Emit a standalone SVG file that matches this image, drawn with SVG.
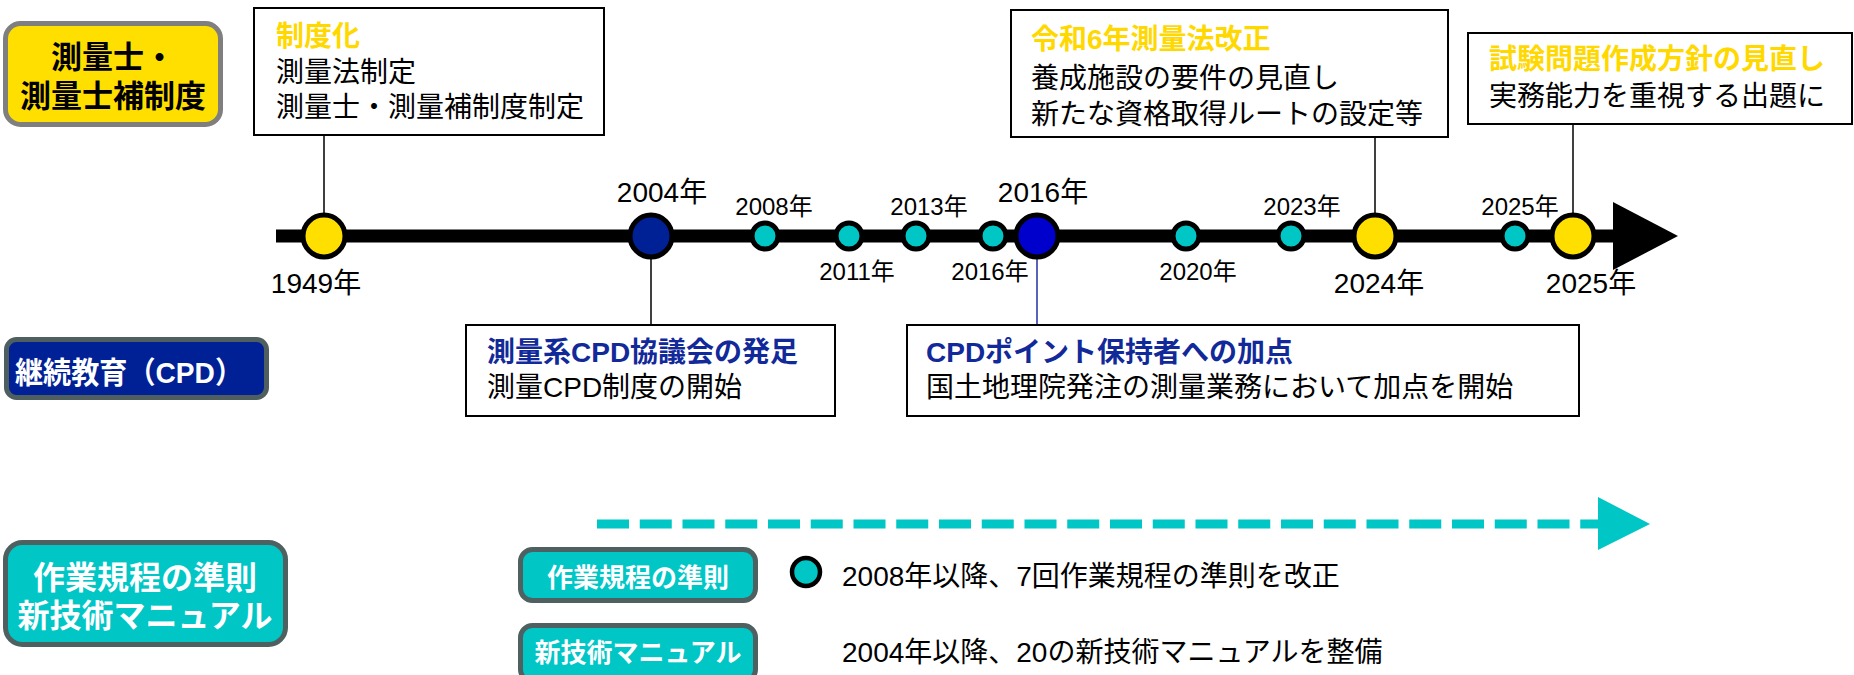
<svg xmlns="http://www.w3.org/2000/svg" width="1854" height="675" viewBox="0 0 1854 675">
<style>
text{font-family:'Liberation Sans','Noto Sans CJK JP',sans-serif;}
.bx{fill:#fff;stroke:#000;stroke-width:2}
.n{font-size:28px;fill:#000}
.hy{font-size:28px;font-weight:bold;fill:#FFD800}
.hb{font-size:28px;font-weight:bold;fill:#12299A}
.ys{font-size:24px;fill:#000;text-anchor:middle}
.yl{font-size:28px;fill:#000;text-anchor:middle}
.cs{stroke:#000;stroke-width:5}
.cy{fill:#00C6C6}
.ln{stroke:#000;stroke-width:1.5;fill:none}
.wt{fill:#fff;font-weight:bold;text-anchor:middle}
</style>
<rect width="1854" height="675" fill="#fff"/>

<g id="cat-survey">
<rect x="5.5" y="23.5" width="215" height="101" rx="15" fill="#FFDF00" stroke="#7F7F7F" stroke-width="5"/>
<text x="113" y="68" font-size="31" font-weight="bold" text-anchor="middle">測量士・</text>
<text x="113" y="107" font-size="31" font-weight="bold" text-anchor="middle">測量士補制度</text>
</g>
<g id="cat-cpd">
<rect x="6.5" y="339.5" width="260" height="58" rx="10" fill="#002096" stroke="#4F5F5F" stroke-width="5"/>
<text x="15" y="383" font-size="30" fill="#fff" font-weight="bold" textLength="228" lengthAdjust="spacingAndGlyphs">継続教育（CPD）</text>
</g>
<g id="cat-rules">
<rect x="5.5" y="542.5" width="280" height="102" rx="17" fill="#00C6C6" stroke="#4F6060" stroke-width="5"/>
<text x="145" y="589" font-size="32" class="wt">作業規程の準則</text>
<text x="145" y="627" font-size="32" class="wt">新技術マニュアル</text>
</g>

<g id="connectors">
<rect x="276" y="229.5" width="1338" height="13" fill="#000"/>
<polygon points="1613,202 1678,236 1613,270" fill="#000"/>
<line class="ln" x1="324" y1="135" x2="324" y2="214"/>
<line class="ln" x1="651" y1="258" x2="651" y2="325"/>
<line x1="1037" y1="258" x2="1037" y2="325" stroke="#2030A0" stroke-width="1.5"/>
<line class="ln" x1="1375" y1="137" x2="1375" y2="214"/>
<line class="ln" x1="1573" y1="124" x2="1573" y2="214"/>
<line x1="597" y1="524" x2="1598" y2="524" stroke="#00C6C6" stroke-width="9" stroke-dasharray="32 10.75"/>
<polygon points="1598,497 1650,524 1598,550" fill="#00C6C6"/>
</g>

<g id="box-1949">
<rect class="bx" x="254" y="8" width="350" height="127"/>
<text class="hy" x="276" y="46">制度化</text>
<text class="n" x="276" y="82">測量法制定</text>
<text class="n" x="276" y="117">測量士・測量補制度制定</text>
</g>
<g id="box-2024">
<rect class="bx" x="1011" y="10" width="437" height="127"/>
<text class="hy" x="1031" y="49">令和6年測量法改正</text>
<text class="n" x="1031" y="88">養成施設の要件の見直し</text>
<text class="n" x="1031" y="124">新たな資格取得ルートの設定等</text>
</g>
<g id="box-2025">
<rect class="bx" x="1468" y="33" width="384" height="91"/>
<text class="hy" x="1489" y="69">試験問題作成方針の見直し</text>
<text class="n" x="1489" y="106">実務能力を重視する出題に</text>
</g>
<g id="box-2004">
<rect class="bx" x="466" y="325" width="369" height="91"/>
<text class="hb" x="487" y="362">測量系CPD協議会の発足</text>
<text class="n" x="487" y="397">測量CPD制度の開始</text>
</g>
<g id="box-2016">
<rect class="bx" x="907" y="325" width="672" height="91"/>
<text class="hb" x="926" y="362">CPDポイント保持者への加点</text>
<text class="n" x="926" y="397">国土地理院発注の測量業務において加点を開始</text>
</g>

<g id="y1949"><circle class="cs" cx="324" cy="236" r="21" fill="#FFDF00"/><text class="yl" x="316" y="293">1949年</text></g>
<g id="y2004"><circle class="cs" cx="651" cy="236" r="21" fill="#002096"/><text class="yl" x="662" y="202">2004年</text></g>
<g id="y2008"><circle class="cs cy" cx="765" cy="236" r="13"/><text class="ys" x="774" y="215">2008年</text></g>
<g id="y2011"><circle class="cs cy" cx="849" cy="236" r="13"/><text class="ys" x="857" y="280">2011年</text></g>
<g id="y2013"><circle class="cs cy" cx="916" cy="236" r="13"/><text class="ys" x="929" y="215">2013年</text></g>
<g id="y2016s"><circle class="cs cy" cx="993" cy="236" r="13"/><text class="ys" x="990" y="280">2016年</text></g>
<g id="y2016"><circle class="cs" cx="1037" cy="236" r="21" fill="#0000CC"/><text class="yl" x="1043" y="202">2016年</text></g>
<g id="y2020"><circle class="cs cy" cx="1186" cy="236" r="13"/><text class="ys" x="1198" y="280">2020年</text></g>
<g id="y2023"><circle class="cs cy" cx="1291" cy="236" r="13"/><text class="ys" x="1302" y="215">2023年</text></g>
<g id="y2024"><circle class="cs" cx="1375" cy="236" r="21" fill="#FFDF00"/><text class="yl" x="1379" y="293">2024年</text></g>
<g id="y2025s"><circle class="cs cy" cx="1515" cy="236" r="13"/><text class="ys" x="1520" y="215">2025年</text></g>
<g id="y2025"><circle class="cs" cx="1573" cy="236" r="21" fill="#FFDF00"/><text class="yl" x="1591" y="293">2025年</text></g>

<g id="legend-rules">
<rect x="520.5" y="549.5" width="235" height="51" rx="12" fill="#00C6C6" stroke="#4F6060" stroke-width="5"/>
<text x="638" y="587" font-size="26" class="wt">作業規程の準則</text>
<circle cx="806" cy="572" r="14" fill="#00C6C6" stroke="#000" stroke-width="4.5"/>
<text class="n" x="842" y="586">2008年以降、7回作業規程の準則を改正</text>
</g>
<g id="legend-manual">
<rect x="520.5" y="625.5" width="235" height="56" rx="12" fill="#00C6C6" stroke="#4F6060" stroke-width="5"/>
<text x="638" y="662" font-size="26" class="wt">新技術マニュアル</text>
<text class="n" x="842" y="662">2004年以降、20の新技術マニュアルを整備</text>
</g>
</svg>
